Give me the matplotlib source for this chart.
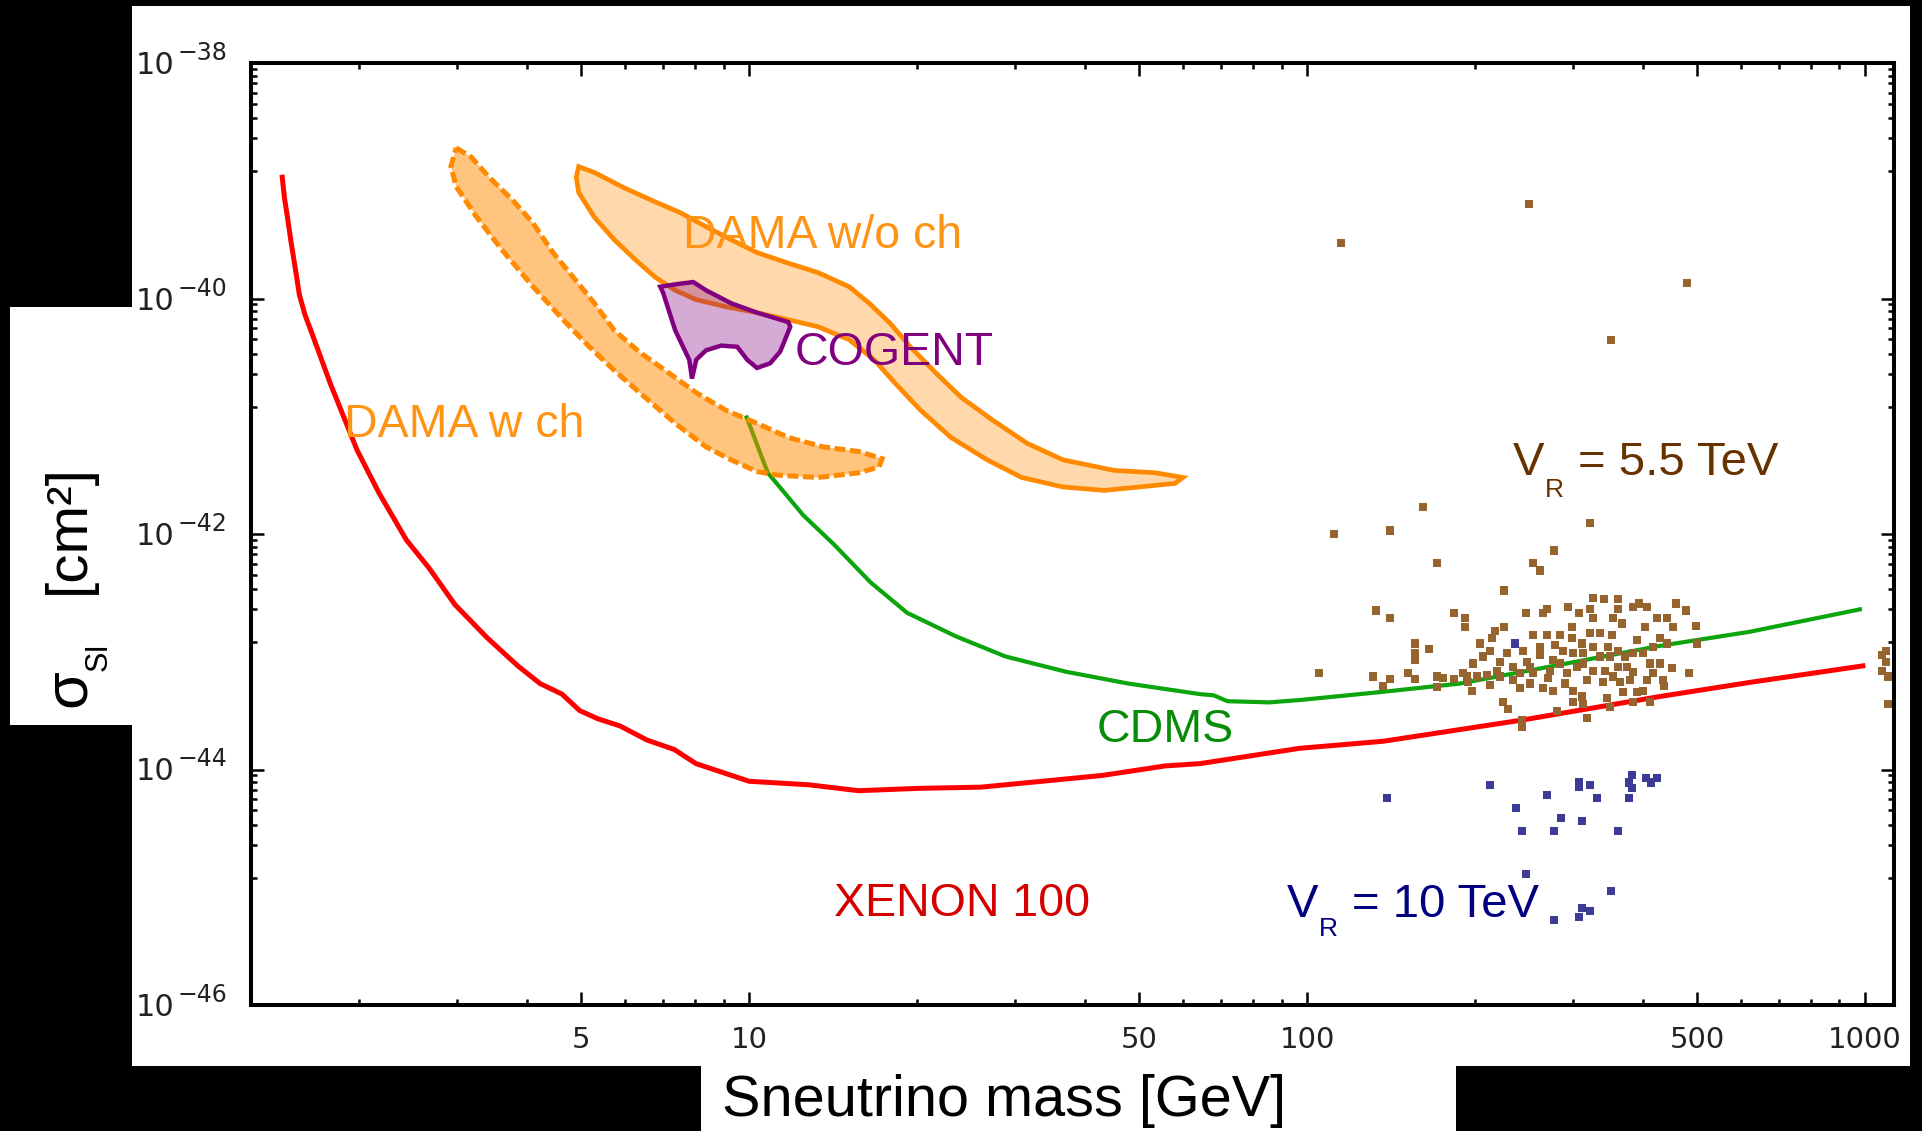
import numpy as np
import matplotlib
matplotlib.use("Agg")
import matplotlib.pyplot as plt
from matplotlib.patches import Rectangle
from matplotlib.ticker import FixedLocator, FixedFormatter, NullFormatter

# ---------------- data (mass in GeV, log10 of sigma in cm^2) ----------------
xenon_mass = [1.456, 1.47, 1.49, 1.51, 1.535, 1.563, 1.60, 1.65, 1.775, 1.984, 2.17, 2.43, 2.67,
              2.97, 3.39, 3.85, 4.22, 4.62, 4.97, 5.36, 5.87, 6.56, 7.34,
              8.03, 10.0, 12.8, 15.7, 20.2, 26, 33.5, 43, 55.6, 64.3,
              97, 137, 243, 429, 622, 991]
xenon_logsig = [-38.97, -39.15, -39.33, -39.52, -39.73, -39.97, -40.14, -40.31, -40.72, -41.29, -41.65, -42.05, -42.29,
                -42.60, -42.88, -43.12, -43.27, -43.36, -43.50, -43.57, -43.63, -43.75, -43.83,
                -43.95, -44.10, -44.13, -44.18, -44.16, -44.15, -44.10, -44.05, -43.97, -43.95,
                -43.82, -43.76, -43.58, -43.38, -43.26, -43.12]

cdms_mass = [9.9, 10.8, 12.5, 14.2, 16.5, 19.2, 23.5, 28.8, 37, 47.8,
             64.3, 68, 72, 85.5, 97, 137, 188, 429, 622, 979]
cdms_logsig = [-41.01, -41.48, -41.84, -42.09, -42.41, -42.67, -42.87, -43.04, -43.17, -43.27,
               -43.36, -43.37, -43.42, -43.43, -43.41, -43.34, -43.27, -42.95, -42.83, -42.64]

dama_wo_mass = [4.95, 5.28, 5.97, 6.79, 7.52, 8.37, 9.28, 10.33, 11.75, 13.29,
                15.11, 16.41, 17.89, 19.44, 21.59, 23.99, 27.26, 31.5, 36.5, 45.1,
                53.4, 59.9, 58.0, 50.2, 43.3, 36.5, 30.8, 26.7, 23.0, 20.3,
                18.27, 16.75, 15.11, 13.29, 11.75, 10.33, 9.09, 8.04, 7.37, 6.79,
                6.25, 5.73, 5.28, 4.95, 4.90]
dama_wo_logsig = [-38.88, -38.93, -39.06, -39.18, -39.27, -39.39, -39.50, -39.61, -39.70, -39.78,
                  -39.90, -40.04, -40.21, -40.41, -40.63, -40.84, -41.03, -41.23, -41.37, -41.46,
                  -41.48, -41.52, -41.57, -41.60, -41.63, -41.60, -41.52, -41.37, -41.18, -40.95,
                  -40.72, -40.52, -40.35, -40.24, -40.18, -40.12, -40.07, -40.01, -39.93, -39.82,
                  -39.67, -39.50, -39.31, -39.10, -38.97]

dama_w_mass = [2.985, 3.177, 3.42, 3.76, 4.10, 4.45, 4.84, 5.28, 5.73, 6.38,
               7.07, 8.04, 9.09, 10.33, 11.75, 13.57, 15.74, 17.31, 17.1, 15.74,
               13.29, 11.23, 10.33, 9.28, 8.37, 7.37, 6.51, 5.73, 5.17, 4.64,
               4.10, 3.61, 3.25, 2.985, 2.92]
dama_w_logsig = [-38.72, -38.80, -38.97, -39.16, -39.36, -39.61, -39.82, -40.04, -40.27, -40.46,
                 -40.61, -40.80, -40.95, -41.06, -41.18, -41.26, -41.30, -41.36, -41.43, -41.48,
                 -41.52, -41.50, -41.47, -41.37, -41.26, -41.06, -40.84, -40.61, -40.41, -40.18,
                 -39.90, -39.59, -39.31, -39.05, -38.88]

cogent_mass = [6.93, 7.37, 7.94, 8.37, 9.28, 10.33, 11.75, 11.85, 11.37, 10.91,
               10.33, 9.92, 9.52, 8.91, 8.37, 8.04, 7.90, 7.81, 7.37, 7.01]
cogent_logsig = [-39.90, -39.88, -39.86, -39.93, -40.04, -40.12, -40.20, -40.24, -40.45, -40.55,
                 -40.59, -40.52, -40.41, -40.40, -40.44, -40.52, -40.68, -40.52, -40.27, -39.95]

# V_R = 5.5 TeV points
brown_mass = [115.1, 250.0, 479.7, 350.6, 161.4, 111.8, 140.8, 321.6, 277.2, 171.0,
              254.1, 261.6, 225.4, 133.0, 140.8, 183.4, 191.9, 191.9, 156.1, 156.1,
              156.1, 165.4, 105.1, 131.3, 140.8, 136.9, 151.7, 156.1, 171.0, 171.0,
              175.3, 183.4, 193.5, 197.6, 224.6, 229.2, 242.9, 242.9, 280.5, 317.6,
              411.9, 383.9, 349.1, 344.9, 368.4, 390.3, 400.2, 436.4, 483.7, 497.8,
              499.9, 477.8, 458.5, 393.6, 406.8, 383.9, 360.8, 360.8, 353.5, 366.9,
              340.6, 325.6, 321.6, 325.6, 307.3, 293.6, 269.2, 264.8, 246.9, 225.4,
              217.3, 214.6, 204.2, 212.8, 206.8, 198.4, 254.1, 269.2, 284.0, 298.5,
              298.5, 278.3, 261.6, 261.6, 243.9, 248.0, 234.0, 221.8, 228.3, 219.1,
              210.2, 201.7, 190.4, 194.3, 212.8, 221.8, 234.0, 240.9, 251.0, 240.9,
              254.1, 270.3, 264.8, 276.0, 290.0, 299.8, 299.8, 311.1, 312.4, 292.4,
              284.0, 304.8, 317.6, 325.6, 287.6, 312.4, 311.1, 325.6, 335.0, 352.1,
              346.3, 335.0, 342.0, 339.2, 353.5, 360.8, 371.5, 383.9, 390.3, 403.5,
              424.0, 441.8, 452.9, 429.3, 441.8, 417.0, 400.2, 411.9, 429.3, 451.0,
              417.0, 406.8, 434.5, 379.2, 363.8, 374.6, 383.9, 360.8, 321.6, 312.4,
              276.0, 272.6, 251.0, 299.8, 349.1, 1073, 1091, 1073, 1100, 1091,
              1100]
brown_logsig = [-39.53, -39.20, -39.87, -40.35, -41.77, -42.00, -41.97, -41.91, -42.14, -42.25,
                -42.25, -42.31, -42.48, -42.65, -42.71, -42.67, -42.71, -42.79, -42.93, -43.01,
                -43.07, -42.98, -43.18, -43.21, -43.23, -43.29, -43.18, -43.23, -43.21, -43.30,
                -43.22, -43.23, -43.21, -43.33, -43.43, -43.49, -43.58, -43.64, -43.50, -43.56,
                -43.43, -43.43, -43.47, -43.39, -43.34, -43.34, -43.33, -43.29, -43.18, -42.78,
                -42.93, -42.65, -42.59, -42.59, -42.62, -42.62, -42.55, -42.64, -42.71, -42.76,
                -42.55, -42.54, -42.64, -42.71, -42.67, -42.62, -42.64, -42.67, -42.67, -42.79,
                -42.82, -42.88, -42.93, -42.99, -43.04, -43.10, -42.86, -42.86, -42.86, -42.79,
                -42.88, -42.94, -42.96, -43.03, -42.99, -43.09, -43.13, -43.09, -43.01, -43.16,
                -43.20, -43.21, -43.18, -43.26, -43.28, -43.21, -43.24, -43.31, -43.27, -43.18,
                -43.18, -43.22, -43.31, -43.33, -43.27, -43.33, -43.43, -43.38, -43.44, -43.18,
                -43.10, -43.13, -43.24, -43.16, -42.99, -43.01, -42.93, -42.96, -42.84, -42.86,
                -42.96, -43.04, -43.16, -43.26, -43.21, -43.13, -43.04, -43.01, -42.90, -42.79,
                -42.71, -42.71, -42.79, -42.88, -42.93, -42.96, -43.01, -43.10, -43.10, -43.14,
                -43.18, -43.24, -43.24, -43.24, -43.26, -43.13, -43.17, -42.99, -42.84, -43.10,
                -43.07, -43.16, -43.13, -43.01, -43.04, -43.03, -43.09, -43.16, -43.21, -42.99,
                -43.44]

# V_R = 10 TeV points
blue_mass = [139.1, 212.8, 269.2, 236.9, 285.2, 242.9, 277.2, 311.1, 307.3, 307.3,
             321.6, 330.9, 360.8, 377.6, 382.3, 377.6, 382.3, 405.2, 413.6, 424.0,
             246.9, 350.6, 311.1, 321.6, 307.3, 277.2, 236.0]
blue_logsig = [-44.24, -44.13, -44.22, -44.33, -44.41, -44.52, -44.52, -44.44, -44.11, -44.15,
               -44.13, -44.24, -44.52, -44.24, -44.16, -44.11, -44.05, -44.07, -44.11, -44.07,
               -44.89, -45.03, -45.18, -45.20, -45.25, -45.28, -42.93]

x_major = [5, 10, 50, 100, 500, 1000]
x_labels = ["5", "10", "50", "100", "500", "1000"]
y_major_exp = [-46, -44, -42, -40, -38]

# ---------------- layout helpers (pixels, top-left origin) ----------------
W, H = 1922, 1131
PT = 72.0 / 100.0   # points per pixel at dpi 100
def fx(px):
    return px / W
def fy(py):
    return 1.0 - py / H

plt.rcParams['font.family'] = ['DejaVu Sans']
fig = plt.figure(figsize=(W / 100, H / 100), dpi=100)
fig.patch.set_facecolor('black')

def white_box(x0, y0, x1, y1):
    fig.add_artist(Rectangle((fx(x0), fy(y1)), fx(x1) - fx(x0), fy(y0) - fy(y1),
                             transform=fig.transFigure, facecolor='white',
                             edgecolor='none', zorder=-10))

white_box(132, 6, 1910, 1066)
white_box(10, 307, 132, 725)
white_box(701, 1066, 1456, 1131)

AX_L, AX_R, AX_T, AX_B = 251, 1894, 63, 1005
ax = fig.add_axes([fx(AX_L), fy(AX_B), fx(AX_R) - fx(AX_L), fy(AX_T) - fy(AX_B)])
ax.set_xscale('log')
ax.set_yscale('log')
ax.set_xlim(1.28, 1127)
ax.set_ylim(1e-46, 1e-38)
ax.set_facecolor('white')

# ticks
x_minor = [k * 10.0 ** n for n in (0, 1, 2) for k in range(2, 10) if k != 5]
ax.xaxis.set_major_locator(FixedLocator(x_major))
ax.xaxis.set_major_formatter(FixedFormatter(x_labels))
ax.xaxis.set_minor_locator(FixedLocator(x_minor))
ax.xaxis.set_minor_formatter(NullFormatter())

y_major = [10.0 ** e for e in y_major_exp]
y_minor = [10.0 ** (e - 2) + j * (10.0 ** e - 10.0 ** (e - 2)) / 9
           for e in y_major_exp[1:] for j in range(1, 9)]
ax.yaxis.set_major_locator(FixedLocator(y_major))
ax.yaxis.set_major_formatter(NullFormatter())
ax.yaxis.set_minor_locator(FixedLocator(y_minor))
ax.yaxis.set_minor_formatter(NullFormatter())

ax.tick_params(which='both', direction='in', top=True, right=True,
               color='black', labelcolor='#222222', labelsize=21)
ax.tick_params(which='major', length=9.4, width=1.8)
ax.tick_params(which='minor', length=4.3, width=1.8)
ax.tick_params(axis='x', which='major', pad=15)
for s in ax.spines.values():
    s.set_linewidth(2.9)
    s.set_color('black')

# y tick labels drawn as "10" plus a raised exponent
ytrans = ax.get_yaxis_transform()
for e, v in zip(y_major_exp, y_major):
    ax.annotate('10', xy=(0, v), xycoords=ytrans, xytext=((174 - AX_L) * PT, -11 * PT),
                textcoords='offset points', ha='right', va='baseline',
                fontsize=22, color='#222222', annotation_clip=False)
    ax.annotate('\u2212%d' % abs(e), xy=(0, v), xycoords=ytrans,
                xytext=((177 - AX_L) * PT, 3 * PT), textcoords='offset points',
                ha='left', va='baseline', fontsize=17, color='#222222',
                annotation_clip=False)

# curves
ax.plot(cdms_mass, 10.0 ** np.array(cdms_logsig), color='#0DA50D', lw=3.0, zorder=2)
ax.plot(xenon_mass, 10.0 ** np.array(xenon_logsig), color='#FF0000', lw=3.6, zorder=2)

# regions
ax.fill(dama_wo_mass, 10.0 ** np.array(dama_wo_logsig), facecolor=(1.0, 0.55, 0.0, 0.33),
        edgecolor='#FF8A00', lw=3.4, zorder=3)
ax.fill(dama_w_mass, 10.0 ** np.array(dama_w_logsig), facecolor=(1.0, 0.55, 0.0, 0.5),
        edgecolor='#FF8A00', lw=3.6, linestyle=(0, (2.2, 0.9)), zorder=3)
ax.fill(cogent_mass, 10.0 ** np.array(cogent_logsig), facecolor=(0.5, 0.0, 0.5, 0.33),
        edgecolor='#800080', lw=3.2, zorder=4)

# scatter points
ax.scatter(brown_mass, 10.0 ** np.array(brown_logsig), marker='s', s=34,
           color='#96642F', edgecolors='none', zorder=5)
ax.scatter(blue_mass, 10.0 ** np.array(blue_logsig), marker='s', s=34,
           color='#3C3C96', edgecolors='none', zorder=6)

# labels inside plot
LS = 'Liberation Sans'
def label(px, py, s, color, size):
    fig.text(fx(px), fy(py), s, color=color, fontsize=size, family=LS,
             ha='left', va='baseline', zorder=10)

label(683, 248, 'DAMA w/o ch', '#FF9414', 33.5)
label(344, 437, 'DAMA w ch', '#FF9414', 33.5)
label(795, 365, 'COGENT', '#800080', 33.5)
label(1097, 742, 'CDMS', '#078C07', 33.5)
label(834, 916, 'XENON 100', '#D40000', 33.5)
label(1513, 475, 'V', '#663300', 34)
label(1545, 497, 'R', '#663300', 19)
label(1578, 475, '= 5.5 TeV', '#663300', 34)
label(1287, 917, 'V', '#000080', 34)
label(1319, 936, 'R', '#000080', 19)
label(1352, 917, '= 10 TeV', '#000080', 34)

# axis titles
fig.text(fx(722), fy(1116), 'Sneutrino mass [GeV]', fontsize=41.5, family=LS,
         ha='left', va='baseline', color='black')
fig.text(fx(85), fy(688), '\u03c3', fontsize=44, family=LS, rotation=90,
         rotation_mode='anchor', ha='center', va='baseline', color='black')
fig.text(fx(107), fy(657), 'SI', fontsize=22, family=LS, rotation=90,
         rotation_mode='anchor', ha='center', va='baseline', color='black')
fig.text(fx(84), fy(529), '[cm\u00b2]', fontsize=42, family=LS, rotation=90,
         rotation_mode='anchor', ha='center', va='baseline', color='black')

fig.savefig('out.png', dpi=100, facecolor='black')
